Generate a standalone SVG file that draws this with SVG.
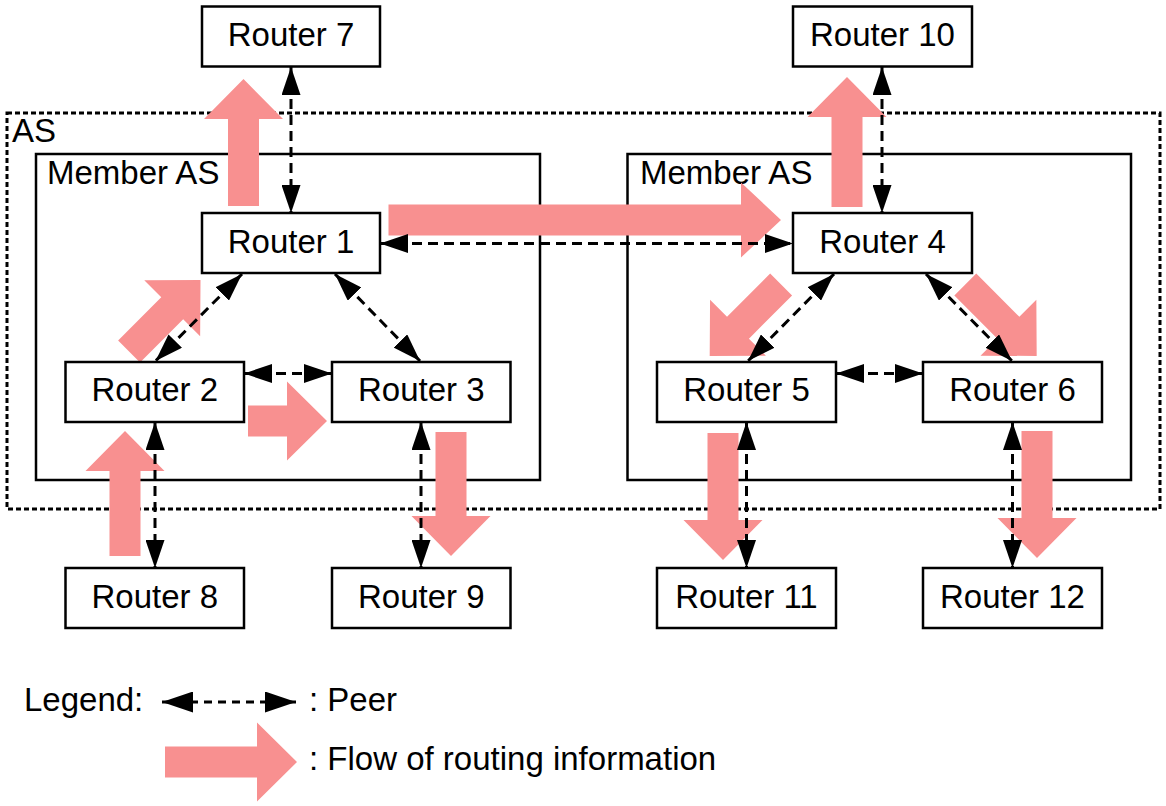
<svg xmlns="http://www.w3.org/2000/svg" width="1166" height="806" viewBox="0 0 1166 806">
<style>
text{font-family:"Liberation Sans",Arial,sans-serif;font-size:33px;fill:#000}
.node rect{fill:#fff;stroke:#000;stroke-width:2.5}
.node text{text-anchor:middle}
.as{fill:none;stroke:#000;stroke-width:3;stroke-dasharray:5 3}
.member{fill:none;stroke:#000;stroke-width:2.5}
.flow{fill:#F89090}
.peer{stroke:#000;stroke-width:3;stroke-dasharray:10 6;fill:none;marker-start:url(#ah);marker-end:url(#ah)}
</style>
<defs>
<marker id="ah" viewBox="0 0 28 19" refX="28" refY="9.5" markerWidth="28" markerHeight="19" markerUnits="userSpaceOnUse" orient="auto-start-reverse"><path d="M0,0 L28,9.5 L0,19 z" fill="#000"/></marker>
<marker id="ahL" viewBox="0 0 31 21" refX="31" refY="10.5" markerWidth="31" markerHeight="21" markerUnits="userSpaceOnUse" orient="auto-start-reverse"><path d="M0,0 L31,10.5 L0,21 z" fill="#000"/></marker>
</defs>

<g id="containers">
<rect class="as" x="7" y="113" width="1153" height="396"/>
<text x="12" y="142">AS</text>
<rect class="member" x="36" y="154" width="504" height="326"/>
<text x="47" y="184">Member AS</text>
<rect class="member" x="627.5" y="154" width="503.5" height="326"/>
<text x="640" y="184">Member AS</text>
</g>

<g id="flows">
<polygon class="flow" transform="translate(243.5,79) rotate(-90)" points="-127,-15.5 -40,-15.5 -40,-39.5 0,0 -40,39.5 -40,15.5 -127,15.5"/>
<polygon class="flow" transform="translate(781,220)" points="-392.5,-15.5 -40,-15.5 -40,-37.5 0,0 -40,37.5 -40,15.5 -392.5,15.5"/>
<polygon class="flow" transform="translate(847,77) rotate(-90)" points="-130,-15.5 -40,-15.5 -40,-39.5 0,0 -40,39.5 -40,15.5 -130,15.5"/>
<polygon class="flow" transform="translate(200.5,280) rotate(-45)" points="-101,-15.5 -40,-15.5 -40,-39.5 0,0 -40,39.5 -40,15.5 -101,15.5"/>
<polygon class="flow" transform="translate(327,421)" points="-79,-15.5 -40,-15.5 -40,-39.5 0,0 -40,39.5 -40,15.5 -79,15.5"/>
<polygon class="flow" transform="translate(125,431) rotate(-90)" points="-125,-15.5 -40,-15.5 -40,-39.5 0,0 -40,39.5 -40,15.5 -125,15.5"/>
<polygon class="flow" transform="translate(451,556) rotate(90)" points="-124,-15.5 -40,-15.5 -40,-39.5 0,0 -40,39.5 -40,15.5 -124,15.5"/>
<polygon class="flow" transform="translate(709.7,356) rotate(135)" points="-101,-15.5 -40,-15.5 -40,-39.5 0,0 -40,39.5 -40,15.5 -101,15.5"/>
<polygon class="flow" transform="translate(1036.7,356) rotate(45)" points="-101,-15.5 -40,-15.5 -40,-39.5 0,0 -40,39.5 -40,15.5 -101,15.5"/>
<polygon class="flow" transform="translate(723,560) rotate(90)" points="-127,-15.5 -40,-15.5 -40,-39.5 0,0 -40,39.5 -40,15.5 -127,15.5"/>
<polygon class="flow" transform="translate(1037,558) rotate(90)" points="-127,-15.5 -40,-15.5 -40,-39.5 0,0 -40,39.5 -40,15.5 -127,15.5"/>
</g>

<g id="connectors">
<line class="peer" x1="291" y1="67" x2="291" y2="213"/>
<line class="peer" x1="380" y1="243.5" x2="793" y2="243.5"/>
<line class="peer" x1="242" y1="274" x2="155.5" y2="361"/>
<line class="peer" x1="335" y1="274" x2="420" y2="361"/>
<line class="peer" x1="244" y1="373.5" x2="332" y2="373.5"/>
<line class="peer" x1="155" y1="422" x2="155" y2="568"/>
<line class="peer" x1="421" y1="422" x2="421" y2="568"/>
<line class="peer" x1="882" y1="67" x2="882" y2="213"/>
<line class="peer" x1="834" y1="274" x2="748" y2="361"/>
<line class="peer" x1="926" y1="274" x2="1012" y2="361"/>
<line class="peer" x1="836" y1="373.5" x2="923" y2="373.5"/>
<line class="peer" x1="746.5" y1="422" x2="746.5" y2="568"/>
<line class="peer" x1="1012.5" y1="422" x2="1012.5" y2="568"/>
</g>

<g id="router7" class="node"><rect x="202" y="6.5" width="178" height="60"/><text x="291" y="46">Router 7</text></g>
<g id="router1" class="node"><rect x="202" y="213" width="178" height="60"/><text x="291" y="253">Router 1</text></g>
<g id="router2" class="node"><rect x="65.5" y="362" width="178.5" height="60"/><text x="154.75" y="401">Router 2</text></g>
<g id="router3" class="node"><rect x="332" y="362" width="178.5" height="60"/><text x="421.25" y="401">Router 3</text></g>
<g id="router8" class="node"><rect x="65.5" y="568" width="178.5" height="60"/><text x="154.75" y="608">Router 8</text></g>
<g id="router9" class="node"><rect x="332" y="568" width="178.5" height="60"/><text x="421.25" y="608">Router 9</text></g>
<g id="router10" class="node"><rect x="793" y="6.5" width="179" height="60"/><text x="882.5" y="46">Router 10</text></g>
<g id="router4" class="node"><rect x="793" y="213" width="179" height="60"/><text x="882.5" y="253">Router 4</text></g>
<g id="router5" class="node"><rect x="657" y="362" width="179" height="60"/><text x="746.5" y="401">Router 5</text></g>
<g id="router6" class="node"><rect x="923" y="362" width="179" height="60"/><text x="1012.5" y="401">Router 6</text></g>
<g id="router11" class="node"><rect x="657" y="568" width="179" height="60"/><text x="746.5" y="608">Router 11</text></g>
<g id="router12" class="node"><rect x="923" y="568" width="179" height="60"/><text x="1012.5" y="608">Router 12</text></g>

<g id="legend">
<text x="24" y="711">Legend:</text>
<line x1="162" y1="702" x2="296" y2="702" stroke="#000" stroke-width="3" stroke-dasharray="8 6" marker-start="url(#ahL)" marker-end="url(#ahL)"/>
<text x="309" y="711">: Peer</text>
<polygon class="flow" transform="translate(297,762)" points="-132,-15.5 -40,-15.5 -40,-39.5 0,0 -40,39.5 -40,15.5 -132,15.5"/>
<text x="309" y="770">: Flow of routing information</text>
</g>
</svg>
